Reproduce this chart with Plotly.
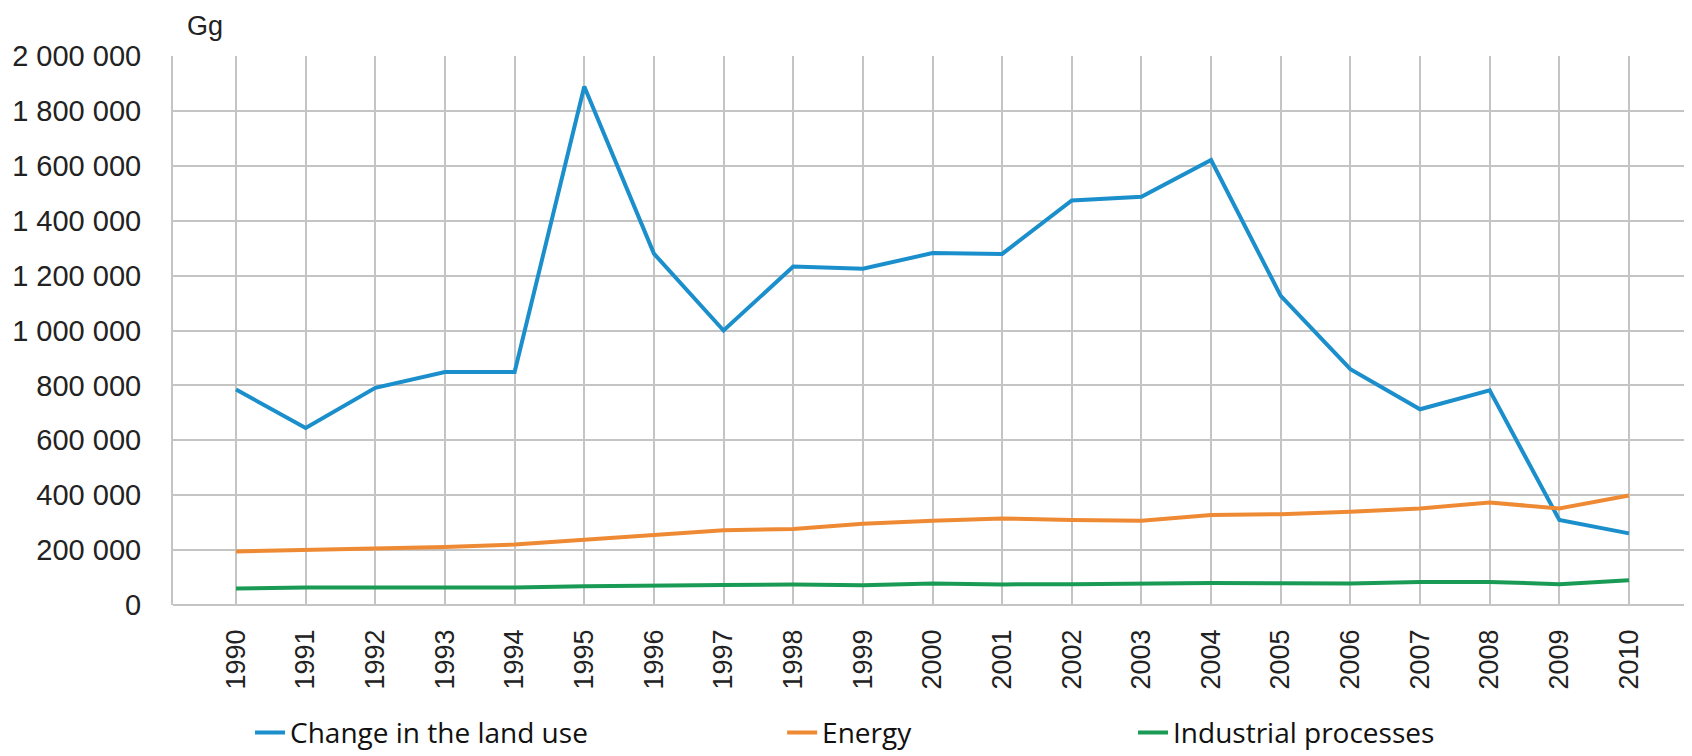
import plotly.graph_objects as go

years = list(range(1990, 2011))
land_use = [785000, 645000, 791000, 849000, 849000, 1889000, 1280000, 1000000, 1233000, 1225000,
            1282000, 1279000, 1474000, 1487000, 1621000, 1126000, 859000, 713000, 782000, 310000, 261000]
energy = [195000, 200000, 205000, 211000, 220000, 237000, 255000, 272000, 277000, 296000,
          307000, 315000, 310000, 307000, 328000, 331000, 340000, 352000, 373000, 352000, 399000]
industrial = [60000, 64000, 64000, 64000, 64000, 68000, 69000, 73000, 75000, 72000,
              78000, 75000, 76000, 79000, 80000, 79000, 78000, 84000, 84000, 76000, 90000]

series_names = ["Change in the land use", "Energy", "Industrial processes"]
series_colors = ["#1b8fcb", "#ef8a34", "#1a9b55"]
y_tickvals = [0, 200000, 400000, 600000, 800000, 1000000, 1200000, 1400000, 1600000, 1800000, 2000000]
y_ticktext = ["0", "200 000", "400 000", "600 000", "800 000", "1 000 000", "1 200 000",
              "1 400 000", "1 600 000", "1 800 000", "2 000 000"]

grid = "#c4c4c4"
fig = go.Figure()
for name, vals, col, lg in zip(series_names, [land_use, energy, industrial], series_colors,
                               ["legend", "legend2", "legend3"]):
    fig.add_trace(go.Scatter(x=years, y=vals, mode="lines", name=name, showlegend=True,
                             line=dict(color=col, width=4), legend=lg))

legend_font = dict(family="Open Sans, Noto Sans, sans-serif", size=28, color="#111111")
leg_common = dict(orientation="h", xanchor="left", yanchor="middle",
                  yref="container", y=0.031,
                  font=legend_font, bgcolor="rgba(0,0,0,0)", borderwidth=0)

fig.update_layout(
    width=1684, height=748,
    showlegend=True,
    margin=dict(l=165, r=0, t=48, b=151),
    paper_bgcolor="white", plot_bgcolor="white",
    font=dict(family="Liberation Sans, Arial, sans-serif", size=28, color="#222222"),
    legend=dict(x=0.0507, **leg_common),
    legend2=dict(x=0.401, **leg_common),
    legend3=dict(x=0.632, **leg_common),
    xaxis=dict(range=[1989.095, 2010.905], tickmode="array", tickvals=years,
               ticktext=[str(y) for y in years], tickangle=-90,
               showgrid=True, gridcolor=grid, gridwidth=2, zeroline=False,
               showline=False, ticks="", ticklabelstandoff=18,
               tickfont=dict(size=27)),
    yaxis=dict(range=[0, 2000000], tickmode="array", tickvals=y_tickvals, ticktext=y_ticktext,
               showgrid=True, gridcolor=grid, gridwidth=2, zeroline=True, zerolinecolor=grid,
               zerolinewidth=2, showline=True, linecolor=grid, linewidth=2, ticks="",
               ticklabelstandoff=24, tickfont=dict(size=29)),
    annotations=[dict(text="Gg", xref="paper", yref="paper", x=0.0079, y=1.054,
                      xanchor="left", yanchor="middle", showarrow=False,
                      font=dict(size=27, color="#222222"))],
)

fig.write_html("out.html")
